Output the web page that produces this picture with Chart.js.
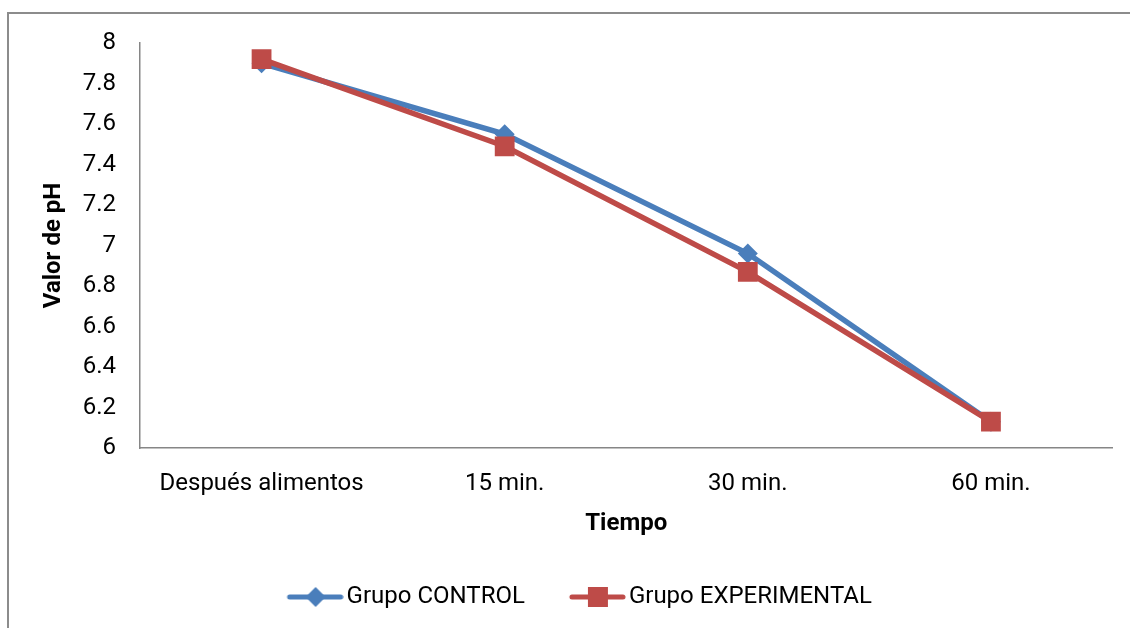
<!DOCTYPE html>
<html>
<head>
<meta charset="utf-8">
<script src="https://cdn.jsdelivr.net/npm/chart.js@4"></script>
<style>
  body { margin: 0; background: #fff; overflow: hidden; }
  #wrap { position: relative; width: 1130px; height: 628px; }
  #frame { position: absolute; left: 7px; top: 12px; width: 2000px; height: 2000px;
           border-left: 2px solid #8c8c8c; border-top: 2px solid #8c8c8c; }
  #chart { position: absolute; left: 0; top: 0; }
</style>
</head>
<body>
<div id="wrap">
  <div id="frame"></div>
  <canvas id="chart" width="1130" height="628"></canvas>
</div>
<script>
// datos
const categories = ["Después alimentos", "15 min.", "30 min.", "60 min."];
const controlValues = [7.9, 7.55, 6.96, 6.13];
const experimentalValues = [7.92, 7.49, 6.87, 6.13];
const yTicks = [6, 6.2, 6.4, 6.6, 6.8, 7, 7.2, 7.4, 7.6, 7.8, 8];
const seriesNames = ["Grupo CONTROL", "Grupo EXPERIMENTAL"];

const BLUE = "#4a7ebb";
const RED = "#be4b48";
const AXIS = "#868686";

Chart.defaults.font.family = "Roboto";
Chart.defaults.color = "#000";

// marcador de leyenda: línea con diamante o cuadrado
function legendMarker(color, square) {
  const c = document.createElement("canvas");
  c.width = 100;
  c.height = 24;
  const ctx = c.getContext("2d");
  ctx.strokeStyle = color;
  ctx.fillStyle = color;
  ctx.lineWidth = 5;
  ctx.lineCap = "round";
  ctx.beginPath();
  ctx.moveTo(46, 12);
  ctx.lineTo(97, 12);
  ctx.stroke();
  const cx = 72;
  if (square) {
    ctx.fillRect(cx - 10, 2, 20, 20);
  } else {
    ctx.beginPath();
    ctx.moveTo(cx, 2);
    ctx.lineTo(cx + 10, 12);
    ctx.lineTo(cx, 22);
    ctx.lineTo(cx - 10, 12);
    ctx.closePath();
    ctx.fill();
  }
  return c;
}

const markers = [legendMarker(BLUE, false), legendMarker(RED, true)];

// mover la leyenda un poco a la derecha
const legendShift = {
  id: "legendShift",
  afterLayout(chart) {
    chart.legend.left += 6;
    chart.legend.right += 6;
  },
};

function start() {
  new Chart(document.getElementById("chart"), {
    type: "line",
    data: {
      labels: categories,
      datasets: [
        {
          label: seriesNames[0],
          data: controlValues,
          borderColor: BLUE,
          backgroundColor: BLUE,
          borderWidth: 5.5,
          pointStyle: "rectRot",
          pointRadius: 10,
          pointBorderWidth: 0,
          tension: 0,
          order: 1,
        },
        {
          label: seriesNames[1],
          data: experimentalValues,
          borderColor: RED,
          backgroundColor: RED,
          borderWidth: 5.5,
          pointStyle: "rect",
          pointRadius: 14,
          pointBorderWidth: 0,
          tension: 0,
          order: 0,
        },
      ],
    },
    options: {
      responsive: false,
      animation: false,
      layout: { padding: { left: 0, top: 43, right: 17.5, bottom: 9 } },
      scales: {
        x: {
          offset: true,
          grid: { display: false, drawTicks: false },
          border: { display: true, color: AXIS, width: 1.5 },
          ticks: { font: { size: 24 }, padding: 22, maxRotation: 0, color: "#000" },
          title: {
            display: true,
            text: "Tiempo",
            font: { size: 24, weight: "bold" },
            padding: { top: 0, bottom: 37 },
            color: "#000",
          },
          afterFit(scale) { scale.height = 127; },
        },
        y: {
          min: 6,
          max: 8,
          grid: { display: false, drawTicks: false },
          border: { display: true, color: AXIS, width: 1.5 },
          ticks: {
            font: { size: 24 },
            padding: 24,
            color: "#000",
            callback: (v) => String(v),
          },
          afterBuildTicks(scale) {
            scale.ticks = yTicks.map((v) => ({ value: v }));
          },
          title: {
            display: true,
            text: "Valor de pH",
            font: { size: 24, weight: "bold" },
            padding: { top: 40, bottom: 0 },
            color: "#000",
          },
          afterFit(scale) { scale.width = 140; },
        },
      },
      plugins: {
        tooltip: { enabled: false },
        legend: {
          position: "bottom",
          labels: {
            usePointStyle: true,
            pointStyleWidth: 82,
            padding: 10,
            color: "#000",
            font: { size: 24 },
            generateLabels: () =>
              seriesNames.map((name, i) => ({
                text: name,
                pointStyle: markers[i],
                fillStyle: "transparent",
                strokeStyle: "transparent",
                lineWidth: 0,
                hidden: false,
                datasetIndex: i,
                fontColor: "#000",
              })),
          },
        },
      },
    },
    plugins: [legendShift],
  });
}

if (document.fonts && document.fonts.load) {
  Promise.all([
    document.fonts.load("24px Roboto"),
    document.fonts.load("bold 24px Roboto"),
  ]).then(start, start);
} else {
  start();
}
</script>
</body>
</html>
